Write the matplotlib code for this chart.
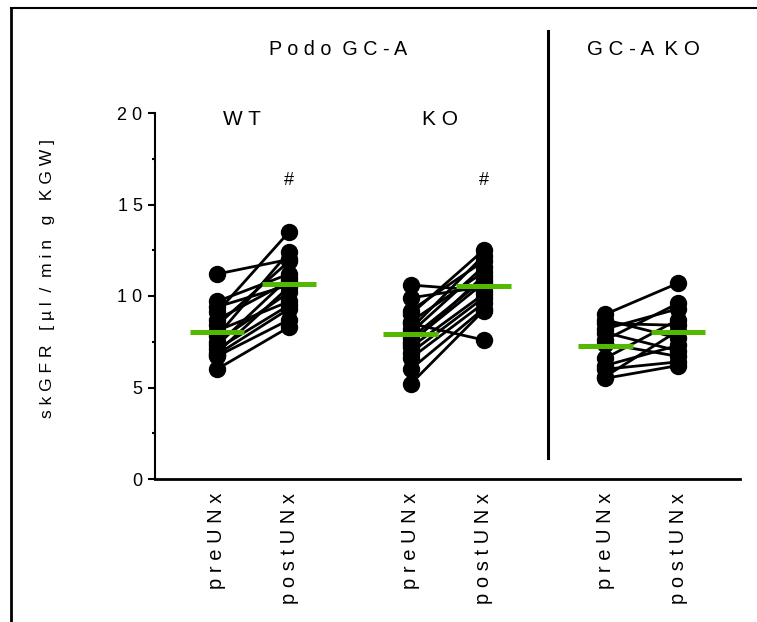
import matplotlib
matplotlib.use("Agg")
import matplotlib.pyplot as plt
from matplotlib.lines import Line2D
import numpy as np

plt.rcParams['font.family'] = ['Liberation Sans', 'DejaVu Sans']

# ---- data ----
categories = ["p r e U N x", "p o s t U N x"] * 3
group_titles = ["W T", "K O"]
super_titles = ["P o d o  G C - A", "G C - A  K O"]

wt_pre = [11.2, 9.7, 9.4, 9.1, 8.7, 8.4, 8.1, 7.8, 7.5, 7.3, 7.1, 6.9, 6.8, 6.7, 6.0]
wt_post = [12.0, 11.2, 10.6, 13.5, 10.8, 11.9, 9.7, 12.4, 10.2, 11.0, 9.5, 10.5, 9.3, 8.7, 8.3]

ko_pre = [10.6, 9.9, 9.2, 9.0, 8.6, 8.5, 8.2, 8.0, 7.7, 7.4, 7.5, 7.2, 6.9, 6.6, 6.0, 5.2]
ko_post = [10.3, 10.5, 11.9, 12.5, 11.3, 7.6, 12.2, 11.6, 10.9, 11.1, 10.7, 10.1, 9.9, 9.6, 9.3, 9.2]

gc_pre = [9.0, 8.7, 8.5, 8.2, 8.0, 7.6, 7.4, 6.6, 6.2, 6.0, 5.6, 5.5]
gc_post = [10.7, 7.7, 8.4, 9.3, 7.0, 9.6, 6.7, 8.7, 7.3, 6.4, 8.1, 6.2]

groups = [(wt_pre, wt_post), (ko_pre, ko_post), (gc_pre, gc_post)]
positions = [(1.0, 2.0), (3.69, 4.7), (6.39, 7.4)]

yticks = [0, 5, 10, 15, 20]
ytick_labels = ["0", "5", "1 0", "1 5", "2 0"]
ylabel = "s k G F R   [ µ l  /  m i n   g   K G W ]"

green = "#52B800"

fig = plt.figure(figsize=(7.57, 6.22), dpi=100)
ax = fig.add_axes([155 / 757, 1 - 479 / 622, (740 - 155) / 757, (479 - 113) / 622])

for (pre, post), (xp, xq) in zip(groups, positions):
    for a, b in zip(pre, post):
        ax.plot([xp, xq], [a, b], color="black", lw=2.0, zorder=2, clip_on=False)
    ax.plot([xp] * len(pre), pre, "o", color="black", ms=11.5, zorder=3, clip_on=False)
    ax.plot([xq] * len(post), post, "o", color="black", ms=11.5, zorder=3, clip_on=False)
    hw = 0.38
    ax.plot([xp - hw, xp + hw], [np.mean(pre)] * 2, color=green, lw=3.6, zorder=4,
            solid_capstyle="butt")
    ax.plot([xq - hw, xq + hw], [np.mean(post)] * 2, color=green, lw=3.6, zorder=4,
            solid_capstyle="butt")

ax.set_xlim(0.14, 8.26)
ax.set_ylim(0, 20)
ax.spines['top'].set_visible(False)
ax.spines['right'].set_visible(False)
ax.spines['left'].set_linewidth(1.5)
ax.spines['bottom'].set_linewidth(2.0)

ax.set_yticks(yticks)
ax.set_yticklabels(ytick_labels, fontsize=13)
ax.set_yticks([2.5, 7.5, 12.5, 17.5], minor=True)
ax.tick_params(axis='y', which='major', length=5, width=1.5, pad=4)
ax.tick_params(axis='y', which='minor', length=2.5, width=1.5)

xpos = [p for pair in positions for p in pair]
ax.set_xticks(xpos)
ax.set_xticklabels(categories, rotation=90, fontsize=14.5)
ax.tick_params(axis='x', length=0, pad=10)

fig.text(48 / 757, 1 - 278 / 622, ylabel, rotation=90, ha="center", va="center", fontsize=12.6)

# group texts
ax.text(1.35, 19.65, group_titles[0], ha="center", va="center", fontsize=15)
ax.text(4.1, 19.65, group_titles[1], ha="center", va="center", fontsize=15)
ax.text(2.0, 16.3, "#", ha="center", va="center", fontsize=13)
ax.text(4.7, 16.3, "#", ha="center", va="center", fontsize=13)
ax.text(2.68, 23.45, super_titles[0], ha="center", va="center", fontsize=14.2, clip_on=False)
ax.text(6.92, 23.45, super_titles[1], ha="center", va="center", fontsize=14.8, clip_on=False)

# divider
ax.plot([5.6, 5.6], [1.15, 24.5], color="black", lw=2.2, clip_on=False)

# figure frame lines
fig.add_artist(Line2D([10.5 / 757, 1.0], [1 - 7.5 / 622] * 2, color="black", lw=1.5,
                      transform=fig.transFigure))
fig.add_artist(Line2D([10.5 / 757] * 2, [0.0, 1 - 7.5 / 622], color="black", lw=2.0,
                      transform=fig.transFigure))

fig.savefig("out.png", dpi=100)
